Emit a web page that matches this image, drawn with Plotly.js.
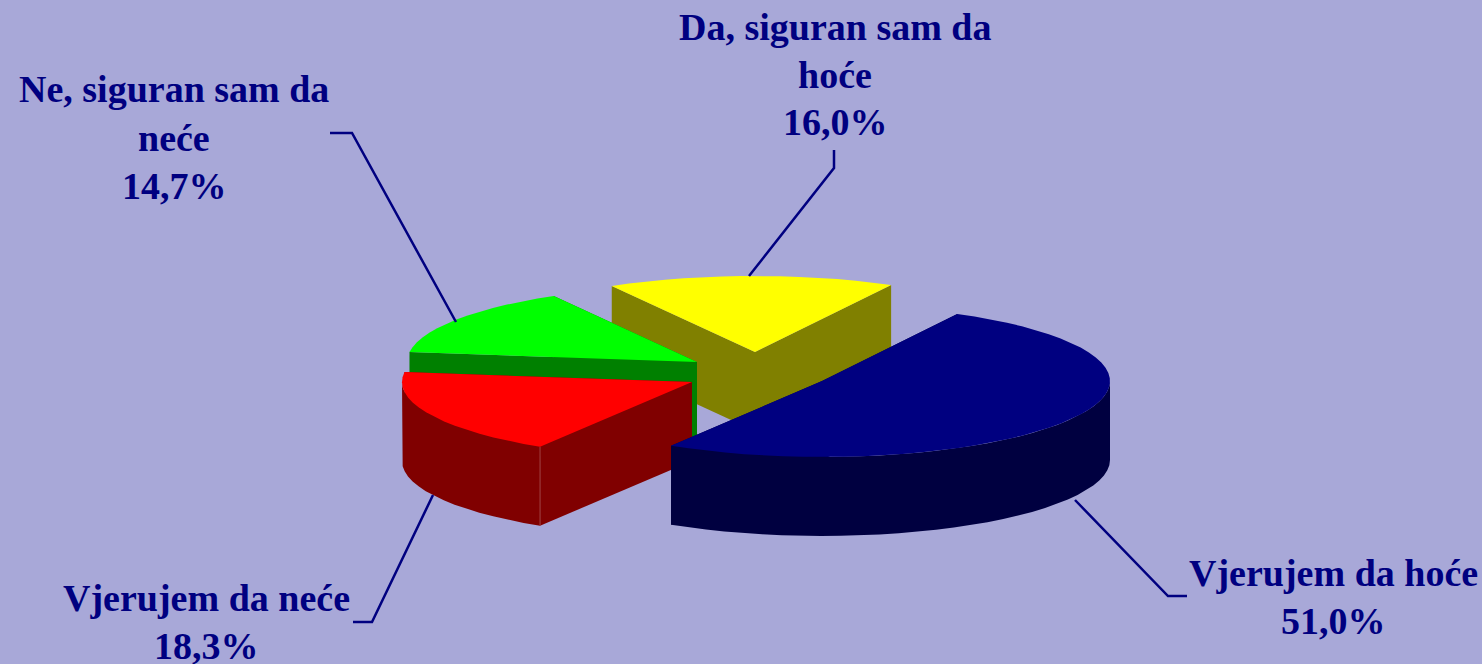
<!DOCTYPE html>
<html>
<head>
<meta charset="utf-8">
<script src="https://cdn.plot.ly/plotly-3.0.1.min.js"></script>
<style>html,body{margin:0;padding:0;background:#A8A8D8;overflow:hidden}</style>
</head>
<body>
<div id="chart" style="width:1482px;height:664px"></div>
<script>
// Data, clockwise from the first slice
const categories = ["Vjerujem da hoće", "Vjerujem da neće", "Ne, siguran sam da neće", "Da, siguran sam da hoće"];
const values = [51.0, 18.3, 14.7, 16.0];
const labelLines = [["Vjerujem da hoće"], ["Vjerujem da neće"], ["Ne, siguran sam da", "neće"], ["Da, siguran sam da", "hoće"]];

// Styles
const topColors = ["#000080", "#FF0000", "#00FF00", "#FFFF00"];
const sideColors = ["#000040", "#800000", "#008000", "#808000"];
const background = "#A8A8D8";
const ink = "#000080";

// Projection of the exploded 3D pie
const startAngle = 28, radiusX = [288, 290, 290, 290], radiusY = 76, depth = 79;
const apexX = [822, 692, 697, 755];
const apexY = [381, 382, 362, 352];
const paintOrder = [3, 2, 1, 0];

// Label and leader placement (one y per text line)
const labelX = [1333, 206, 174, 835];
const labelY = [[573, 621], [598, 646], [89, 138, 186], [27, 75, 122]];
const leaderX = [[1075, 1168, 1187], [433, 372, 353], [456, 352, 330], [749, 834, 834]];
const leaderY = [[500, 596, 596], [495, 622, 622], [322, 133, 133], [276, 168, 150]];

const total = values.reduce((a, b) => a + b, 0);
const rad = d => d * Math.PI / 180;
function arc(i, a, b, dy) {
  const xs = [], ys = [], n = Math.max(1, Math.ceil((b - a) / 4));
  for (let k = 0; k <= n; k++) {
    const t = rad(a + (b - a) * k / n);
    xs.push(apexX[i] + radiusX[i] * Math.sin(t));
    ys.push(apexY[i] - radiusY * Math.cos(t) + dy);
  }
  return [xs, ys];
}
function poly(xs, ys, color, name) {
  return {type: "scatter", mode: "lines", x: xs, y: ys, fill: "toself", fillcolor: color,
          line: {width: 0, color: color}, hoverinfo: "text", text: name, showlegend: false};
}
const pct = v => v.toFixed(1).replace(".", ",") + "%";
const spans = [];
let acc = startAngle;
values.forEach(v => { spans.push([acc, acc + v / total * 360]); acc += v / total * 360; });

const traces = [];
paintOrder.forEach(i => {
  const [a, b] = spans[i], name = categories[i] + " " + pct(values[i]);
  const [tx, ty] = arc(i, a, b, 0);
  const last = tx.length - 1;
  // radial faces
  [0, last].forEach(e => {
    traces.push(poly(
      [apexX[i], tx[e], tx[e], apexX[i], apexX[i]],
      [apexY[i], ty[e], ty[e] + depth, apexY[i] + depth, apexY[i]],
      sideColors[i], name));
  });
  // outer wall, front half only
  const lo = Math.max(a, 90), hi = Math.min(b, 270);
  if (hi > lo) {
    const [ux, uy] = arc(i, lo, hi, 0);
    const [dx, dy] = arc(i, lo, hi, depth);
    traces.push(poly(ux.concat(dx.slice().reverse()), uy.concat(dy.slice().reverse()), sideColors[i], name));
  }
  // faint highlight on the red slice's front corner
  if (i === 1) {
    traces.push({type: "scatter", mode: "lines", x: [tx[0], tx[0]], y: [ty[0], ty[0] + depth],
      line: {color: "#A04040", width: 1}, hoverinfo: "skip", showlegend: false});
  }
  // top
  traces.push(poly([apexX[i]].concat(tx, [apexX[i]]), [apexY[i]].concat(ty, [apexY[i]]), topColors[i], name));
});
// leaders
values.forEach((v, i) => {
  traces.push({type: "scatter", mode: "lines", x: leaderX[i], y: leaderY[i],
    line: {color: ink, width: 2.5}, hoverinfo: "skip", showlegend: false});
});

const annotations = [];
values.forEach((v, i) => {
  labelLines[i].concat(pct(v)).forEach((s, k) => {
    annotations.push({
      x: labelX[i], y: labelY[i][k], xref: "x", yref: "y", xanchor: "center", yanchor: "middle",
      showarrow: false, align: "center", text: "<b>" + s + "</b>",
      font: {family: "'Liberation Serif', 'Times New Roman', serif", size: 38, color: ink}
    });
  });
});

Plotly.newPlot("chart", traces, {
  width: 1482, height: 664, margin: {l: 0, r: 0, t: 0, b: 0},
  paper_bgcolor: background, plot_bgcolor: background, showlegend: false,
  xaxis: {range: [0, 1482], visible: false, fixedrange: true},
  yaxis: {range: [664, 0], visible: false, fixedrange: true},
  annotations: annotations
}, {displayModeBar: false, staticPlot: true});
</script>
</body>
</html>
